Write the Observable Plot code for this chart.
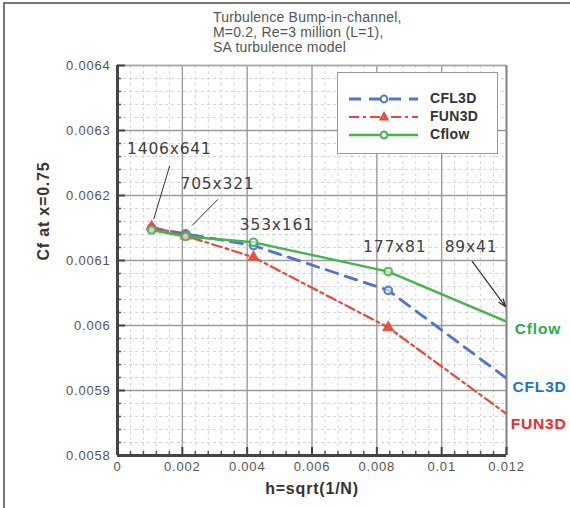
<!DOCTYPE html>
<html>
<head>
<meta charset="utf-8">
<script src="https://cdn.jsdelivr.net/npm/d3@7"></script>
<script src="https://cdn.jsdelivr.net/npm/@observablehq/plot@0.6"></script>
<style>
  html, body { margin: 0; padding: 0; background: #fff; }
  #wrap { position: relative; width: 570px; height: 508px; overflow: hidden; }
  #border { position: absolute; left: 3px; top: 2px; right: 0; bottom: 0; border-top: 2px solid #777; border-left: 2px solid #777; pointer-events: none; }
  #title { position: absolute; left: 213px; top: 10px; font: 14px "Liberation Sans", Arial, sans-serif; line-height: 15px; color: #555; letter-spacing: 0.2px; }
  #legend { position: absolute; left: 337px; top: 72px; width: 159px; height: 80px; border: 1px solid #999; background: #fff; }
  #legend span { position: absolute; left: 92px; font: bold 14px "Liberation Sans", Arial, sans-serif; color: #333; letter-spacing: 0.3px; }
</style>
</head>
<body>
<div id="wrap">
  <div id="chart"></div>
  <div id="title">Turbulence Bump-in-channel,<br>M=0.2, Re=3 million (L=1),<br>SA turbulence model</div>
  <div id="legend"></div>
  <div id="border"></div>
</div>
<script>
// ---- data ----
const meshes = ["1406x641", "705x321", "353x161", "177x81", "89x41"];
const h      = [0.001053, 0.002102, 0.004195, 0.008352, 0.016555];
const cfl3d  = [0.006150, 0.006141, 0.006123, 0.006054, 0.005750];
const fun3d  = [0.006152, 0.006138, 0.006105, 0.005997, 0.005698];
const cflow  = [0.006147, 0.006137, 0.006128, 0.006083, 0.005910];

const seriesNames = ["CFL3D", "FUN3D", "Cflow"];
const seriesColors = ["#5272cc", "#e8473b", "#46b450"];
const labelColors = ["#1f74c4", "#ee2b2b", "#2eaa4e"];
const seriesDash = ["12,8", "10,4,3,4", null];
const seriesWidth = [2.8, 2.2, 2.4];
const seriesSymbol = ["circle", "triangle", "circle"];
const seriesValues = [cfl3d, fun3d, cflow];

// right-side series labels
const endLabelX = [0.01302, 0.01299, 0.01297];
const endLabelY = [0.005905, 0.005849, 0.005995];

// mesh annotations
const annX = [0.00160, 0.003085, 0.004915, 0.008551, 0.010905];
const annY = [0.006271, 0.006218, 0.006155, 0.006121, 0.006121];
// leader lines (1406x641, 705x321) and arrow (89x41)
const leaders = [
  {x1: 0.001613, y1: 0.006246, x2: 0.001120, y2: 0.006164},
  {x1: 0.003094, y1: 0.006194, x2: 0.002304, y2: 0.006154}
];
const arrows = [{x1: 0.010942, y1: 0.0060985, x2: 0.011969, y2: 0.006029}];

// axis ticks
const xMajor = [0, 0.002, 0.004, 0.006, 0.008, 0.01, 0.012];
const yMajor = [0.0058, 0.0059, 0.006, 0.0061, 0.0062, 0.0063, 0.0064];
const xMinor = d3.range(0, 61).map(i => i * 0.0002).filter((v, i) => i % 2 === 0 && i % 10 !== 0);
const yMinor = d3.range(0, 31).map(i => 0.0058 + i * 0.00002).filter((v, i) => i % 5 !== 0);

const rows = [];
seriesNames.forEach((s, k) => h.forEach((x, i) => rows.push({series: s, k, x, y: seriesValues[k][i]})));

const fmt = d => String(+d.toFixed(6));

const marks = [
  // minor grid
  Plot.ruleX(xMinor, {stroke: "#d6d6d6", strokeWidth: 1, strokeDasharray: "3,3"}),
  Plot.ruleY(yMinor, {stroke: "#d6d6d6", strokeWidth: 1, strokeDasharray: "3,3"}),
  // major grid
  Plot.ruleX(xMajor, {stroke: "#9a9a9a", strokeWidth: 1.4}),
  Plot.ruleY(yMajor, {stroke: "#9a9a9a", strokeWidth: 1.4}),
  // frame top/right
  Plot.ruleY([0.0064], {stroke: "#aaa", strokeWidth: 1.5}),
  Plot.ruleX([0.012], {stroke: "#888", strokeWidth: 2}),
  // inward ticks
  Plot.axisX({ticks: xMajor, tickSize: 8, dy: -8, text: null, stroke: "#444", strokeWidth: 2}),
  Plot.axisX({ticks: xMinor, tickSize: 4, dy: -4, text: null, stroke: "#555", strokeWidth: 1.5}),
  Plot.axisY({ticks: yMajor, tickSize: 8, dx: 8, text: null, stroke: "#444", strokeWidth: 2}),
  Plot.axisY({ticks: yMinor, tickSize: 4, dx: 4, text: null, stroke: "#555", strokeWidth: 1.5}),
  // tick labels
  Plot.axisX({ticks: xMajor, tickSize: 0, tickPadding: 6, tickFormat: fmt, label: null, fill: "#555"}),
  Plot.axisY({ticks: yMajor, tickSize: 0, tickPadding: 7, tickFormat: fmt, label: null, fill: "#555"}),
  // axis lines
  Plot.ruleY([0.0058], {stroke: "#444", strokeWidth: 3}),
  Plot.ruleX([0], {stroke: "#444", strokeWidth: 3}),
  // series lines
  ...seriesNames.map((s, k) => Plot.line(rows.filter(r => r.k === k), {
    x: "x", y: "y", stroke: seriesColors[k], strokeWidth: seriesWidth[k],
    strokeDasharray: seriesDash[k], clip: true
  })),
  ...seriesNames.map((s, k) => Plot.dot(rows.filter(r => r.k === k), {
    x: "x", y: "y", stroke: seriesColors[k], strokeWidth: 2.2, r: k === 1 ? 3.2 : 3.8,
    symbol: seriesSymbol[k], fill: k === 1 ? seriesColors[k] : "white", fillOpacity: k === 1 ? 0.7 : 0.6,
    strokeOpacity: 0.9, clip: true
  })),
  // annotations
  Plot.link(leaders, {x1: "x1", y1: "y1", x2: "x2", y2: "y2", stroke: "#333", strokeWidth: 1}),
  Plot.arrow(arrows, {x1: "x1", y1: "y1", x2: "x2", y2: "y2", stroke: "#333", strokeWidth: 1.2, headLength: 10, headAngle: 40, bend: 0}),
  Plot.text(meshes, {x: (d, i) => annX[i], y: (d, i) => annY[i], text: d => d,
    fontFamily: "DejaVu Sans", fontSize: 15.5, fill: "#404040"}),
  Plot.text(seriesNames, {x: (d, i) => endLabelX[i], y: (d, i) => endLabelY[i], text: d => d,
    fill: (d, i) => labelColors[i], fontFamily: "Liberation Sans", fontSize: 15.5, fontWeight: "bold"}),
  // axis titles
  Plot.text(["h=sqrt(1/N)"], {frameAnchor: "bottom", dy: 38, text: d => d, fontSize: 16, fontWeight: "bold", fill: "#333", fontFamily: "Liberation Sans"}),
  Plot.text(["Cf at x=0.75"], {frameAnchor: "left", dx: -74, rotate: -90, text: d => d, fontSize: 16, fontWeight: "bold", fill: "#333", fontFamily: "Liberation Sans"})
];

const chart = Plot.plot({
  width: 570,
  height: 508,
  marginTop: 65,
  marginLeft: 117,
  marginRight: 64,
  marginBottom: 53,
  x: {domain: [0, 0.012], axis: null},
  y: {domain: [0.0058, 0.0064], axis: null},
  style: {fontFamily: "Liberation Sans, Arial, sans-serif", fontSize: "13px", letterSpacing: "0.8px", background: "white", overflow: "visible"},
  marks
});
document.getElementById("chart").appendChild(chart);

// legend
const legend = document.getElementById("legend");
const rowY = [26, 44, 62];
const NS = "http://www.w3.org/2000/svg";
const svg = document.createElementNS(NS, "svg");
svg.setAttribute("width", 90); svg.setAttribute("height", 80);
svg.style.position = "absolute"; svg.style.left = "0"; svg.style.top = "0";
seriesNames.forEach((s, k) => {
  const line = document.createElementNS(NS, "line");
  line.setAttribute("x1", 11); line.setAttribute("x2", 80);
  line.setAttribute("y1", rowY[k]); line.setAttribute("y2", rowY[k]);
  line.setAttribute("stroke", seriesColors[k]); line.setAttribute("stroke-width", seriesWidth[k]);
  if (seriesDash[k]) line.setAttribute("stroke-dasharray", seriesDash[k]);
  svg.appendChild(line);
  let m;
  if (seriesSymbol[k] === "triangle") {
    m = document.createElementNS(NS, "path");
    const cx = 46, cy = rowY[k];
    m.setAttribute("d", `M${cx},${cy - 4}L${cx + 3.5},${cy + 2.5}L${cx - 3.5},${cy + 2.5}Z`);
    m.setAttribute("fill", seriesColors[k]); m.setAttribute("fill-opacity", 0.7);
  } else {
    m = document.createElementNS(NS, "circle");
    m.setAttribute("cx", 46); m.setAttribute("cy", rowY[k]); m.setAttribute("r", 3.4);
    m.setAttribute("fill", "white");
  }
  m.setAttribute("stroke", seriesColors[k]); m.setAttribute("stroke-width", 2);
  svg.appendChild(m);
  const t = document.createElement("span");
  t.textContent = s;
  t.style.top = (rowY[k] - 9) + "px";
  legend.appendChild(t);
});
legend.appendChild(svg);
</script>
</body>
</html>
